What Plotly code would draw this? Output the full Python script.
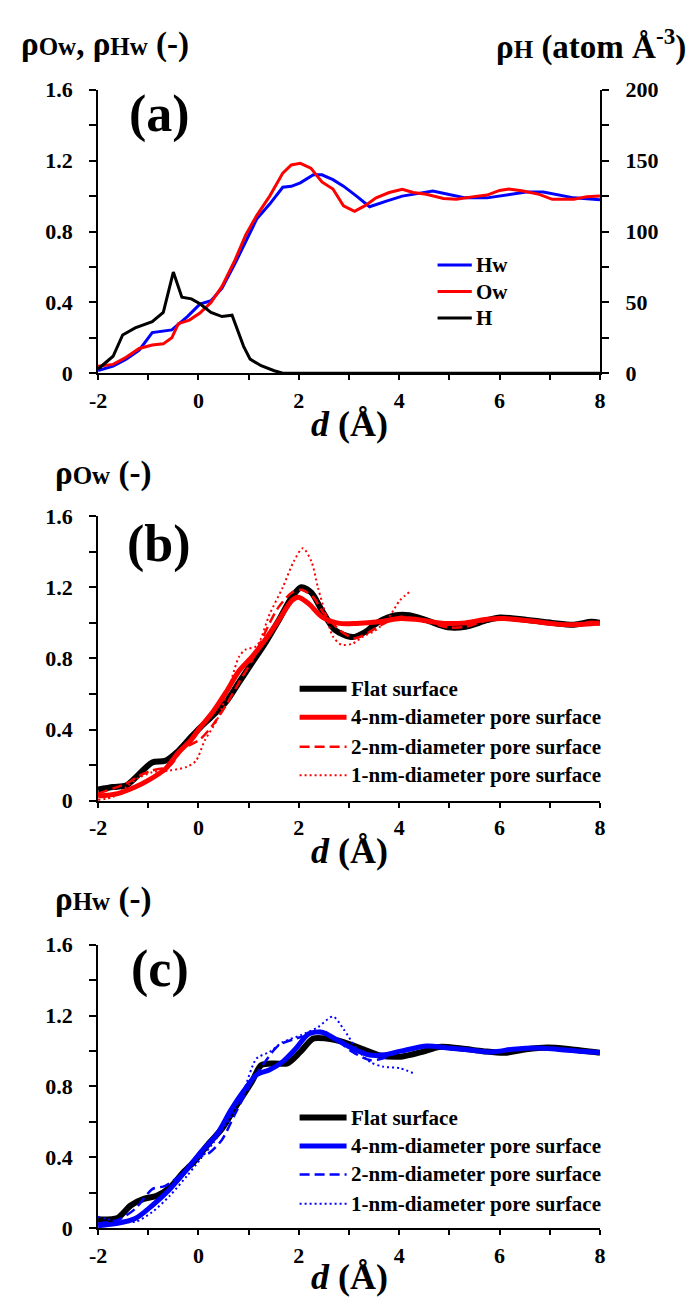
import plotly.graph_objects as go

# ---------------- data ----------------
# (a) density profiles near the flat surface
d_hw_a = [-2.0, -1.7, -1.44, -1.18, -0.92, -0.53, -0.22, 0.03, 0.25, 0.47, 0.73, 0.94, 1.16, 1.42,
          1.68, 1.85, 2.03, 2.29, 2.46, 2.68, 2.89, 3.15, 3.41, 3.76, 4.06, 4.36, 4.67, 4.97, 5.32,
          5.75, 6.18, 6.53, 6.87, 7.13, 7.48, 8.0]
rho_hw_a = [0.015, 0.04, 0.08, 0.13, 0.23, 0.245, 0.32, 0.39, 0.41, 0.48, 0.62, 0.74, 0.87, 0.955,
            1.05, 1.055, 1.075, 1.12, 1.12, 1.093, 1.056, 1.0, 0.94, 0.973, 1.0, 1.014, 1.028, 1.01,
            0.99, 0.99, 1.01, 1.023, 1.023, 1.01, 0.99, 0.98]

d_ow_a = [-2.0, -1.7, -1.44, -1.18, -0.92, -0.7, -0.53, -0.4, -0.18, 0.03, 0.25, 0.47, 0.73, 0.94,
          1.16, 1.42, 1.68, 1.85, 2.03, 2.24, 2.46, 2.68, 2.89, 3.11, 3.32, 3.54, 3.8, 4.06, 4.28,
          4.54, 4.88, 5.14, 5.49, 5.75, 6.0, 6.18, 6.44, 6.79, 7.05, 7.48, 7.74, 8.0]
rho_ow_a = [0.04, 0.05, 0.09, 0.14, 0.16, 0.166, 0.2, 0.28, 0.30, 0.34, 0.40, 0.49, 0.64, 0.78,
            0.89, 1.0, 1.13, 1.176, 1.185, 1.158, 1.08, 1.04, 0.945, 0.914, 0.946, 0.99, 1.02, 1.038,
            1.02, 1.01, 0.986, 0.982, 0.997, 1.006, 1.032, 1.04, 1.03, 1.01, 0.982, 0.982, 0.997, 1.0]

d_h_a = [-2.0, -1.7, -1.51, -1.26, -0.92, -0.7, -0.5, -0.33, -0.14, 0.03, 0.25, 0.47, 0.67, 0.9,
         1.03, 1.25, 1.51, 1.68, 2.0, 4.0, 6.0, 8.0]
rho_h_a = [3, 12, 27, 32, 36.4, 43, 71.4, 53.7, 52.5, 49, 43, 40, 41, 19, 10, 5.3, 1.8, 0, 0, 0, 0, 0]

# (b) water oxygen density, flat surface vs pore surfaces
d_ow_flat = [-2.0, -1.7, -1.44, -1.18, -0.92, -0.66, -0.4, -0.14, 0.03, 0.29, 0.55, 0.81, 1.07,
             1.33, 1.6, 1.86, 2.05, 2.25, 2.46, 2.72, 3.07, 3.33, 3.59, 3.94, 4.2, 4.54, 4.97,
             5.32, 5.75, 6.01, 6.44, 7.05, 7.48, 7.83, 8.0]
rho_ow_flat = [0.063, 0.077, 0.086, 0.15, 0.215, 0.224, 0.28, 0.36, 0.41, 0.48, 0.555, 0.666,
               0.776, 0.886, 1.015, 1.144, 1.2, 1.17, 1.07, 0.96, 0.92, 0.95, 1.006, 1.043, 1.043,
               1.015, 0.975, 0.978, 1.015, 1.03, 1.02, 1.0, 0.99, 1.006, 1.0]

d_ow_4nm = [-2.0, -1.61, -1.26, -1.0, -0.66, -0.4, -0.14, 0.03, 0.29, 0.55, 0.81, 1.07, 1.33, 1.6,
            1.86, 1.99, 2.2, 2.46, 2.81, 3.15, 3.59, 4.03, 4.46, 4.89, 5.32, 5.75, 6.1, 6.62, 7.13,
            7.48, 8.0]
rho_ow_4nm = [0.026, 0.04, 0.077, 0.114, 0.178, 0.27, 0.344, 0.41, 0.50, 0.61, 0.73, 0.81, 0.905,
              1.015, 1.125, 1.144, 1.107, 1.034, 0.997, 0.997, 1.006, 1.024, 1.015, 0.997, 1.0,
              1.02, 1.024, 1.01, 0.993, 0.99, 1.0]

d_ow_2nm = [-2.0, -1.44, -1.18, -0.92, -0.57, -0.31, 0.03, 0.29, 0.55, 0.81, 1.07, 1.42, 1.6,
            1.86, 2.05, 2.29, 2.46, 2.81, 3.11, 3.41, 3.76, 4.03, 4.46, 4.97, 5.32, 5.75, 6.01,
            6.44, 7.05, 7.48, 7.83, 8.0]
rho_ow_2nm = [0.04, 0.096, 0.14, 0.17, 0.197, 0.29, 0.344, 0.427, 0.537, 0.666, 0.79, 1.0, 1.09,
              1.17, 1.186, 1.144, 1.07, 0.96, 0.914, 0.95, 1.006, 1.034, 1.015, 0.975, 0.978,
              1.015, 1.03, 1.02, 1.0, 0.99, 1.006, 1.0]

d_ow_1nm = [-2.0, -1.7, -1.44, -1.18, -0.92, -0.57, -0.23, -0.05, 0.12, 0.38, 0.64, 0.81, 0.94,
            1.16, 1.42, 1.68, 1.9, 2.08, 2.25, 2.38, 2.55, 2.68, 2.85, 3.07, 3.28, 3.54, 3.8, 4.01,
            4.23]
rho_ow_1nm = [0.004, 0.022, 0.077, 0.13, 0.16, 0.17, 0.19, 0.224, 0.335, 0.46, 0.666, 0.81, 0.85,
              0.87, 1.05, 1.2, 1.346, 1.42, 1.346, 1.2, 1.034, 0.923, 0.877, 0.883, 0.923, 0.96,
              1.034, 1.125, 1.18]

# (c) water hydrogen density, flat surface vs pore surfaces
d_hw_flat = [-2.0, -1.61, -1.35, -1.09, -0.83, -0.57, -0.31, -0.05, 0.21, 0.47, 0.73, 1.07, 1.25,
             1.51, 1.77, 2.03, 2.29, 2.55, 2.89, 3.24, 3.59, 4.03, 4.46, 4.8, 5.24, 5.67, 6.1,
             6.53, 6.96, 7.4, 8.0]
rho_hw_flat = [0.05, 0.059, 0.129, 0.166, 0.184, 0.23, 0.313, 0.387, 0.48, 0.562, 0.68, 0.83,
               0.92, 0.93, 0.93, 0.995, 1.07, 1.07, 1.05, 1.014, 0.977, 0.968, 0.995, 1.023, 1.014,
               0.999, 0.99, 1.01, 1.019, 1.01, 0.99]

d_hw_4nm = [-2.0, -1.61, -1.26, -0.92, -0.57, -0.23, 0.03, 0.38, 0.64, 0.9, 1.16, 1.42, 1.68,
            1.94, 2.2, 2.46, 2.72, 3.07, 3.41, 3.67, 4.03, 4.55, 4.97, 5.41, 5.84, 6.27, 6.7,
            7.14, 7.57, 8.0]
rho_hw_4nm = [0.015, 0.028, 0.055, 0.129, 0.221, 0.332, 0.424, 0.535, 0.664, 0.774, 0.866, 0.894,
              0.94, 1.014, 1.097, 1.106, 1.069, 1.014, 0.977, 0.977, 0.999, 1.028, 1.017, 1.005,
              0.995, 1.01, 1.017, 1.01, 0.999, 0.992]

d_hw_2nm = [-2.0, -1.61, -1.26, -0.92, -0.66, -0.31, -0.05, 0.21, 0.47, 0.73, 1.07, 1.33, 1.59,
            1.94, 2.2, 2.46, 2.72, 3.07, 3.41, 3.67, 4.03, 4.55, 4.97, 5.41, 5.84, 6.27, 6.7,
            7.14, 7.57, 8.0]
rho_hw_2nm = [0.028, 0.046, 0.11, 0.221, 0.24, 0.313, 0.396, 0.424, 0.5, 0.645, 0.83, 0.94, 1.03,
              1.07, 1.088, 1.115, 1.069, 0.995, 0.949, 0.958, 0.999, 1.028, 1.017, 1.005, 0.995,
              1.01, 1.017, 1.01, 0.999, 0.992]

d_hw_1nm = [-2.0, -1.7, -1.26, -0.92, -0.57, -0.23, 0.03, 0.29, 0.64, 0.9, 1.16, 1.42, 1.68,
            2.03, 2.38, 2.68, 2.89, 3.15, 3.41, 3.67, 4.01, 4.27]
rho_hw_1nm = [0.065, 0.046, 0.037, 0.092, 0.184, 0.295, 0.387, 0.48, 0.627, 0.774, 0.958, 0.995,
              1.05, 1.088, 1.134, 1.194, 1.124, 1.014, 0.94, 0.912, 0.903, 0.876]

names_a = ["Hw", "Ow", "H"]
names_bc = ["Flat surface", "4-nm-diameter pore surface",
            "2-nm-diameter pore surface", "1-nm-diameter pore surface"]

# tick labels (plain hyphen for the negative value)
x_tickvals = [-2, 0, 2, 4, 6, 8]
x_ticktext = ["-2", "0", "2", "4", "6", "8"]
y_tickvals = [0, 0.4, 0.8, 1.2, 1.6]
y_ticktext = ["0", "0.4", "0.8", "1.2", "1.6"]
y2_tickvals = [0, 50, 100, 150, 200]
y2_ticktext = ["0", "50", "100", "150", "200"]

# ---------------- layout helpers ----------------
W, H = 696, 1311
FONT = "Liberation Serif, Times New Roman, serif"


def px(x):
    return x / W


def py(y):
    return 1 - y / H


X0, X1 = 91, 604
panels = [(79.3, 368.3), (514, 804), (950.7, 1240)]

fig = go.Figure()

# panel (a)
styles_a = [dict(color="#0000FF", width=3), dict(color="#FF0000", width=3),
            dict(color="#000000", width=3)]
for (dx, dy), nm, st, ya in zip([(d_hw_a, rho_hw_a), (d_ow_a, rho_ow_a), (d_h_a, rho_h_a)],
                                names_a, styles_a, ["y", "y", "y2"]):
    fig.add_trace(go.Scatter(x=dx, y=dy, name=nm, mode="lines", line=st,
                             xaxis="x", yaxis=ya, showlegend=False))

# panel (b)
styles_b = [dict(color="#000000", width=6),
            dict(color="#FF0000", width=5),
            dict(color="#FF0000", width=2.5, dash="10px,5px"),
            dict(color="#FF0000", width=2, dash="2px,3px")]
for (dx, dy), nm, st in zip([(d_ow_flat, rho_ow_flat), (d_ow_4nm, rho_ow_4nm),
                             (d_ow_2nm, rho_ow_2nm), (d_ow_1nm, rho_ow_1nm)], names_bc, styles_b):
    fig.add_trace(go.Scatter(x=dx, y=dy, name=nm, mode="lines",
                             line=dict(shape="spline", smoothing=0.8, **st),
                             xaxis="x2", yaxis="y3", showlegend=False))

# panel (c)
styles_c = [dict(color="#000000", width=6),
            dict(color="#0000FF", width=5),
            dict(color="#0000FF", width=2.5, dash="10px,5px"),
            dict(color="#0000FF", width=2, dash="2px,3px")]
for (dx, dy), nm, st in zip([(d_hw_flat, rho_hw_flat), (d_hw_4nm, rho_hw_4nm),
                             (d_hw_2nm, rho_hw_2nm), (d_hw_1nm, rho_hw_1nm)], names_bc, styles_c):
    fig.add_trace(go.Scatter(x=dx, y=dy, name=nm, mode="lines",
                             line=dict(shape="spline", smoothing=0.8, **st),
                             xaxis="x3", yaxis="y4", showlegend=False))

tick_font = dict(family=FONT, size=22, color="black", weight="bold")

xcommon = dict(range=[-2, 8], tickmode="array", tickvals=x_tickvals, ticktext=x_ticktext,
               showline=True, linecolor="black", linewidth=2,
               ticks="outside", ticklen=5, tickwidth=2, tickcolor="black",
               minor=dict(dtick=1, tick0=-2, ticks="outside", ticklen=5, tickwidth=2, tickcolor="black"),
               showgrid=False, zeroline=False, tickfont=tick_font, ticklabelstandoff=1,
               domain=[px(X0), px(X1)], fixedrange=True)
ycommon = dict(range=[0, 1.6], tickmode="array", tickvals=y_tickvals, ticktext=y_ticktext,
               showline=True, linecolor="black", linewidth=2,
               ticks="outside", ticklen=7, tickwidth=2, tickcolor="black",
               minor=dict(dtick=0.2, tick0=0, ticks="outside", ticklen=7, tickwidth=2, tickcolor="black"),
               showgrid=False, zeroline=False, tickfont=tick_font, ticklabelstandoff=12,
               fixedrange=True)


def ydom(p):
    top, bot = panels[p]
    return [py(bot), py(top)]


fig.update_layout(
    width=W, height=H, margin=dict(l=0, r=0, t=0, b=0),
    paper_bgcolor="white", plot_bgcolor="white",
    font=dict(family=FONT, color="black"),
    showlegend=False,
    xaxis=dict(anchor="y", **xcommon),
    yaxis=dict(anchor="x", domain=ydom(0), **ycommon),
    yaxis2=dict(anchor="x", overlaying="y", side="right", range=[0, 200],
                tickmode="array", tickvals=y2_tickvals, ticktext=y2_ticktext,
                showline=True, linecolor="black", linewidth=2, ticks="outside", ticklen=7,
                tickwidth=2, tickcolor="black",
                minor=dict(dtick=25, tick0=0, ticks="outside", ticklen=7, tickwidth=2, tickcolor="black"),
                showgrid=False, zeroline=False, tickfont=tick_font, ticklabelstandoff=12,
                fixedrange=True),
    xaxis2=dict(anchor="y3", **xcommon),
    yaxis3=dict(anchor="x2", domain=ydom(1), **ycommon),
    xaxis3=dict(anchor="y4", **xcommon),
    yaxis4=dict(anchor="x3", domain=ydom(2), **ycommon),
)

ann = []
shapes = []


def text(t, x, y, size, xanchor="left", yanchor="middle"):
    ann.append(dict(text=t, x=px(x), y=py(y), xref="paper", yref="paper", showarrow=False,
                    xanchor=xanchor, yanchor=yanchor, align=xanchor if xanchor != "center" else "center",
                    borderpad=0,
                    font=dict(family=FONT, size=size, color="black", weight="bold")))


def legend_block(names, styles, x_line0, x_line1, rows):
    # swatch line + label for each series
    for nm, st, yy in zip(names, styles, rows):
        ln = dict(color=st["color"], width=st["width"])
        if "dash" in st:
            ln["dash"] = st["dash"]
        shapes.append(dict(type="line", xref="paper", yref="paper",
                           x0=px(x_line0), x1=px(x_line1), y0=py(yy), y1=py(yy), line=ln))
        text(nm, x_line1 + 3, yy, 21)


legend_block(names_a, styles_a, 438, 473, [258, 285, 312])
legend_block(names_bc, styles_b, 297, 345, [690, 719, 749, 778])
legend_block(names_bc, styles_c, 297, 345, [1127, 1156, 1185, 1215])

sub = "<span style='font-size:25px'>{}</span>"
# axis titles
text("ρ" + sub.format("Ow") + ", ρ" + sub.format("Hw") + " (-)", 11, 33, 33)
text("ρ" + sub.format("H") + " (atom Å<sup>-3</sup>)", 693, 33, 33, xanchor="right")
text("ρ" + sub.format("Ow") + " (-)", 46, 470, 33)
text("ρ" + sub.format("Hw") + " (-)", 46, 905, 33)
for yy in (420, 855, 1290):
    text("<i>d</i> (Å)", 348, yy, 36, xanchor="center")
# panel labels
text("(a)", 122, 104, 52)
text("(b)", 120, 542, 52)
text("(c)", 124, 976, 52)

fig.update_layout(annotations=ann, shapes=shapes)

fig.write_html("out.html")
